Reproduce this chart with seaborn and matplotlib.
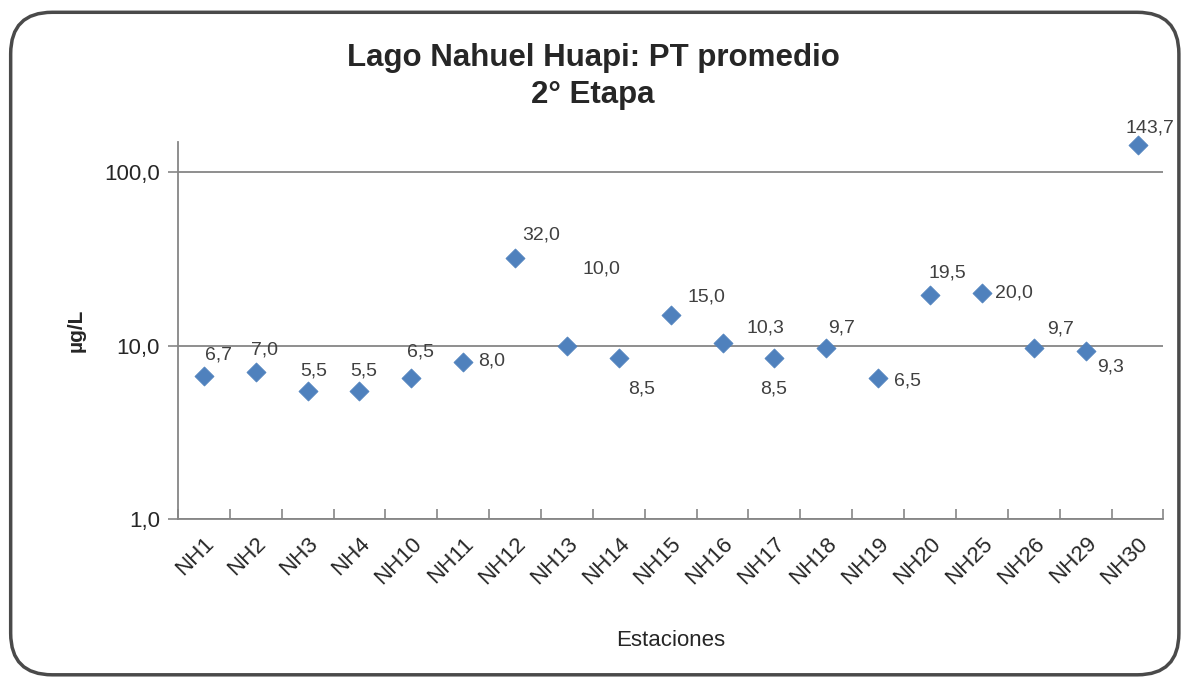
import matplotlib
matplotlib.use("Agg")
import matplotlib.pyplot as plt
from matplotlib.patches import FancyBboxPatch
from matplotlib.ticker import FixedLocator, NullLocator
import pandas as pd
import seaborn as sns

# data
estaciones = ['NH1', 'NH2', 'NH3', 'NH4', 'NH10', 'NH11', 'NH12', 'NH13', 'NH14', 'NH15',
              'NH16', 'NH17', 'NH18', 'NH19', 'NH20', 'NH25', 'NH26', 'NH29', 'NH30']
pt_promedio = [6.7, 7.0, 5.5, 5.5, 6.5, 8.0, 32.0, 10.0, 8.5, 15.0,
               10.3, 8.5, 9.7, 6.5, 19.5, 20.0, 9.7, 9.3, 143.7]
y_ticks = [1, 10, 100]
y_tick_labels = ['1,0', '10,0', '100,0']

# label offsets (pixels) from each marker, as placed in the original
label_offsets = [(15, 21), (9, 22), (6, 20), (4, 20), (9, 26), (28, 1), (26, 23), (34, 77),
                 (23, -31), (36, 18), (43, 15), (-1, -31), (15, 20), (29, -3), (17, 22),
                 (32, 0), (27, 19), (25, -16), (12, 17)]

df = pd.DataFrame({'estacion': estaciones, 'pt': pt_promedio})
df['pos'] = range(len(df))

sns.set_style('white')
plt.rcParams['font.family'] = ['Liberation Sans', 'DejaVu Sans']

fig = plt.figure(figsize=(11.86, 6.83), dpi=100)
ax = fig.add_axes([0.150, 0.240, 0.831, 0.552])

# rounded frame around the whole chart
frame = FancyBboxPatch((0.009, 0.012), 0.985, 0.970, boxstyle='round,pad=0,rounding_size=0.035',
                       transform=fig.transFigure, facecolor='none', edgecolor='#4a4a4a',
                       linewidth=2.5, mutation_aspect=1186 / 683)
fig.patches.append(frame)

sns.scatterplot(data=df, x='pos', y='pt', marker='D', s=95, color='#4F81BD',
                edgecolor='#4F81BD', linewidth=0.5, ax=ax, zorder=3, clip_on=False)

for (x, y, v), (dx, dy) in zip(zip(df['pos'], df['pt'], df['pt']), label_offsets):
    ax.annotate(f'{v:.1f}'.replace('.', ','), (x, y), xytext=(dx, dy),
                textcoords='offset pixels', ha='center', va='center',
                fontsize=14, color='#404040', annotation_clip=False)

ax.set_yscale('log')
ax.set_ylim(1, 149)
ax.set_xlim(-0.5, len(estaciones) - 0.5)
ax.yaxis.set_major_locator(FixedLocator(y_ticks))
ax.yaxis.set_minor_locator(NullLocator())
ax.set_yticklabels(y_tick_labels, fontsize=16)
ax.tick_params(axis='y', length=7, width=1.2, color='#868686', left=True, pad=6)

ax.set_xticks(range(len(estaciones)))
ax.set_xticklabels(estaciones, rotation=45, ha='right', rotation_mode='anchor', fontsize=16)
ax.tick_params(axis='x', length=0, pad=10)
ax.set_xticks([i + 0.5 for i in range(-1, len(estaciones))], minor=True)
ax.tick_params(axis='x', which='minor', direction='in', length=7, width=1.2, color='#868686',
               bottom=True)

ax.grid(axis='y', which='major', color='#868686', linewidth=1.3)
for side in ['top', 'right']:
    ax.spines[side].set_visible(False)
for side in ['left', 'bottom']:
    ax.spines[side].set_color('#868686')
    ax.spines[side].set_linewidth(1.3)

ax.set_xlabel('Estaciones', fontsize=16, labelpad=30)
ax.set_ylabel('µg/L', fontsize=15, fontweight='bold', labelpad=13)
fig.text(0.5, 0.888, 'Lago Nahuel Huapi: PT promedio\n2° Etapa', ha='center', va='center',
         fontsize=22.5, fontweight='bold', linespacing=1.32)

fig.savefig('out.png', dpi=100)
